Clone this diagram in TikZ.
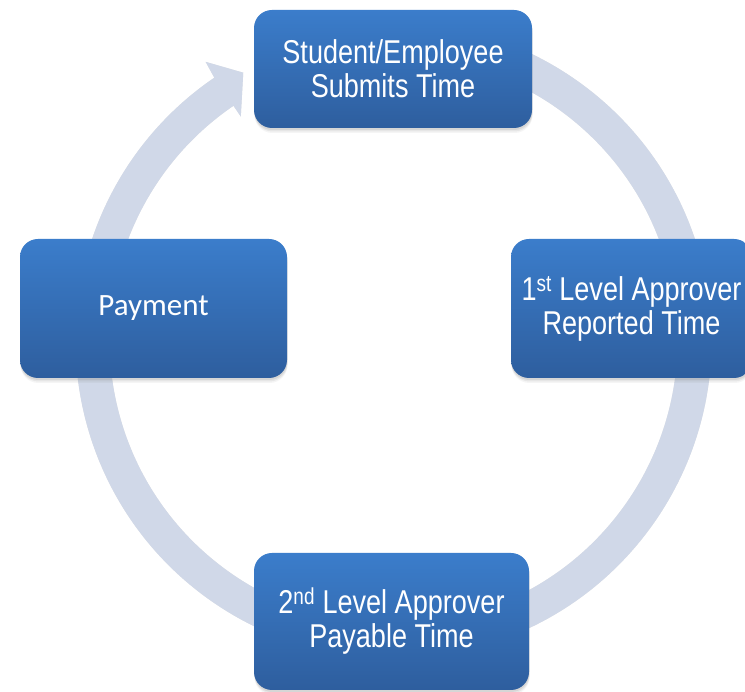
\documentclass[tikz,border=0pt]{standalone}
\usepackage{fontspec}
\setmainfont{Liberation Sans}
\newfontfamily\narrowfont[FakeStretch=0.82]{Liberation Sans}
\newfontfamily\calfont{Carlito}
\usetikzlibrary{calc,shadows}
\definecolor{ringcol}{RGB}{208,216,232}
\definecolor{boxtop}{RGB}{59,125,203}
\definecolor{boxbot}{RGB}{46,94,158}
\tikzset{
  stagebox/.style={rectangle, rounded corners=18pt, inner sep=0pt,
    top color=boxtop, bottom color=boxbot, draw=none, text=white, align=center,
    drop shadow={shadow xshift=0.5pt, shadow yshift=-5pt, opacity=0.08},
    drop shadow={shadow xshift=0.5pt, shadow yshift=-3.5pt, opacity=0.12},
    drop shadow={shadow xshift=0.3pt, shadow yshift=-2pt, opacity=0.15}},
  narrowtext/.style={font=\narrowfont\fontsize{33}{34}\selectfont},
  caltext/.style={font=\calfont\fontsize{31}{34}\selectfont},
  ringline/.style={line width=34pt, draw=ringcol},
  ringshadow/.style={line width=34pt, draw=black, opacity=0.10}
}
\begin{document}
\begin{tikzpicture}[x=1pt,y=1pt]
\useasboundingbox (0,0) rectangle (745,692);
\fill[white] (0,0) rectangle (745,692);
\coordinate (c) at (393.5,351.6);
% ring shadow
\begin{scope}[shift={(0.8,-2.5)}]
  \draw[ringshadow] ($(c)+(100:301)$) arc[start angle=100, end angle=-236, radius=301];
  \fill[black, opacity=0.10] ($(c)+(124.3:318)$) -- ($(c)+(124:336)$) -- ($(c)+(119.3:307)$) -- ($(c)+(124.3:271)$) -- ($(c)+(124.3:284)$) -- cycle;
\end{scope}
% ring
\draw[ringline] ($(c)+(100:301)$) arc[start angle=100, end angle=-236, radius=301];
\fill[ringcol] ($(c)+(124.3:318)$) -- ($(c)+(124:336)$) -- ($(c)+(119.3:307)$) -- ($(c)+(124.3:271)$) -- ($(c)+(124.3:284)$) -- cycle;
% boxes
\node[stagebox, narrowtext, minimum width=278pt, minimum height=118pt] (submit) at (393,623) {Student/Employee\\Submits Time};
\node[stagebox, narrowtext, minimum width=241pt, minimum height=139pt] (first) at (631.5,383.5) {1\textsuperscript{st} Level Approver\\Reported Time};
\node[stagebox, narrowtext, minimum width=275pt, minimum height=137pt] (second) at (391.5,70.5) {2\textsuperscript{nd} Level Approver\\Payable Time};
\node[stagebox, caltext, minimum width=267pt, minimum height=139pt] (pay) at (153.5,383.5) {\raisebox{-3pt}{Payment}};
\end{tikzpicture}
\end{document}
